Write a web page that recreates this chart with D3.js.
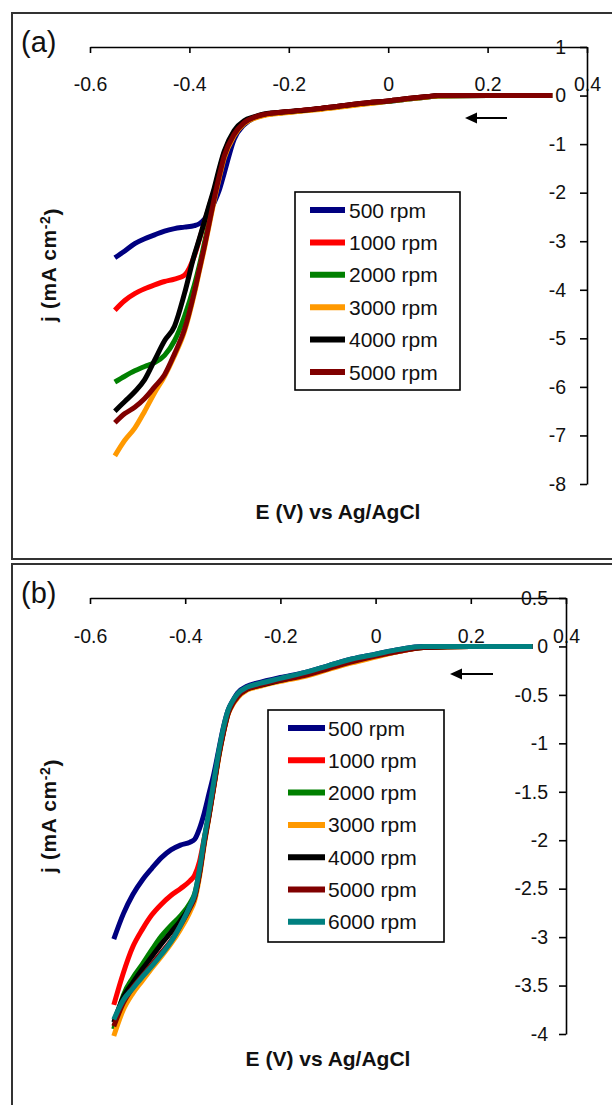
<!DOCTYPE html>
<html><head><meta charset="utf-8">
<script src="https://cdn.jsdelivr.net/npm/d3@7"></script>
<style>
body{margin:0;background:#fff}
svg{display:block;font-family:"Liberation Sans",Arial,sans-serif}
</style>
</head><body>
<svg id="chart" width="612" height="1105"></svg>
<script>
// ---------- DATA ----------
const xTicks = [-0.6, -0.4, -0.2, 0, 0.2, 0.4];
const yTicksA = [1, 0, -1, -2, -3, -4, -5, -6, -7, -8];
const yTicksB = [0.5, 0, -0.5, -1, -1.5, -2, -2.5, -3, -3.5, -4];

const seriesNamesA = ["500 rpm", "1000 rpm", "2000 rpm", "3000 rpm", "4000 rpm", "5000 rpm"];
const seriesNamesB = ["500 rpm", "1000 rpm", "2000 rpm", "3000 rpm", "4000 rpm", "5000 rpm", "6000 rpm"];

// panel (a): potential grid (V) and current densities (mA cm-2)
const potentialA = [-0.55,-0.53,-0.51,-0.49,-0.47,-0.45,-0.43,-0.41,-0.39,-0.38,-0.37,-0.36,-0.35,-0.34,-0.33,-0.31,-0.29,-0.27,-0.25,-0.20,-0.15,-0.10,-0.05,0,0.05,0.08,0.10,0.20,0.33];
const a500  = [-3.34,-3.20,-3.05,-2.95,-2.87,-2.79,-2.74,-2.71,-2.68,-2.64,-2.55,-2.40,-2.20,-1.95,-1.60,-0.90,-0.60,-0.46,-0.40,-0.34,-0.29,-0.23,-0.17,-0.12,-0.06,-0.03,-0.01,0,0];
const a1000 = [-4.42,-4.22,-4.08,-3.98,-3.90,-3.83,-3.78,-3.70,-3.30,-2.97,-2.62,-2.28,-1.95,-1.55,-1.18,-0.76,-0.54,-0.45,-0.39,-0.33,-0.28,-0.22,-0.16,-0.11,-0.05,-0.02,0,0,0];
const a2000 = [-5.90,-5.78,-5.67,-5.58,-5.50,-5.35,-5.05,-4.55,-3.90,-3.50,-3.05,-2.58,-2.10,-1.66,-1.26,-0.81,-0.57,-0.46,-0.40,-0.34,-0.29,-0.23,-0.17,-0.12,-0.06,-0.03,-0.01,0,0];
const a3000 = [-7.42,-7.10,-6.85,-6.50,-6.12,-5.78,-5.36,-4.86,-4.08,-3.62,-3.16,-2.66,-2.16,-1.70,-1.29,-0.83,-0.58,-0.47,-0.41,-0.35,-0.30,-0.24,-0.18,-0.12,-0.06,-0.03,-0.01,0,0];
const a4000 = [-6.50,-6.30,-6.10,-5.85,-5.45,-5.05,-4.75,-4.08,-3.28,-2.95,-2.60,-2.25,-1.90,-1.50,-1.15,-0.72,-0.52,-0.44,-0.38,-0.33,-0.28,-0.22,-0.16,-0.11,-0.05,-0.02,0,0,0];
const a5000 = [-6.74,-6.55,-6.42,-6.24,-6.00,-5.75,-5.32,-4.82,-4.04,-3.58,-3.12,-2.62,-2.12,-1.66,-1.25,-0.80,-0.56,-0.45,-0.39,-0.33,-0.28,-0.22,-0.16,-0.11,-0.05,-0.02,0,0,0];

// panel (b)
const potentialB = [-0.55,-0.53,-0.51,-0.49,-0.47,-0.45,-0.43,-0.41,-0.39,-0.38,-0.37,-0.36,-0.35,-0.34,-0.33,-0.32,-0.31,-0.30,-0.29,-0.27,-0.25,-0.20,-0.15,-0.10,-0.05,0,0.05,0.10,0.20,0.33];
const b500  = [-3.02,-2.76,-2.56,-2.41,-2.29,-2.18,-2.10,-2.05,-2.02,-1.99,-1.88,-1.72,-1.52,-1.32,-1.08,-0.84,-0.66,-0.56,-0.48,-0.41,-0.38,-0.32,-0.27,-0.20,-0.13,-0.08,-0.03,0,0,0];
const b1000 = [-3.70,-3.37,-3.10,-2.92,-2.77,-2.66,-2.57,-2.50,-2.42,-2.36,-2.22,-1.98,-1.74,-1.45,-1.15,-0.90,-0.70,-0.59,-0.52,-0.44,-0.41,-0.35,-0.30,-0.23,-0.16,-0.10,-0.05,-0.01,0,0];
const b2000 = [-3.95,-3.60,-3.42,-3.28,-3.13,-2.99,-2.88,-2.78,-2.65,-2.55,-2.32,-2.00,-1.73,-1.43,-1.13,-0.88,-0.68,-0.58,-0.51,-0.43,-0.40,-0.34,-0.29,-0.22,-0.15,-0.09,-0.04,-0.01,0,0];
const b3000 = [-4.02,-3.75,-3.58,-3.45,-3.32,-3.20,-3.07,-2.92,-2.74,-2.62,-2.38,-2.05,-1.76,-1.46,-1.16,-0.90,-0.70,-0.60,-0.53,-0.45,-0.42,-0.36,-0.31,-0.24,-0.17,-0.11,-0.05,-0.01,0,0];
const b4000 = [-3.88,-3.62,-3.47,-3.33,-3.20,-3.07,-2.95,-2.83,-2.68,-2.58,-2.34,-2.02,-1.74,-1.44,-1.14,-0.89,-0.69,-0.58,-0.51,-0.44,-0.41,-0.35,-0.29,-0.22,-0.15,-0.09,-0.04,-0.01,0,0];
const b5000 = [-3.92,-3.68,-3.52,-3.40,-3.28,-3.16,-3.04,-2.88,-2.70,-2.59,-2.35,-2.03,-1.75,-1.45,-1.14,-0.89,-0.69,-0.59,-0.52,-0.44,-0.41,-0.35,-0.30,-0.23,-0.16,-0.10,-0.05,-0.01,0,0];
const b6000 = [-3.85,-3.65,-3.53,-3.41,-3.30,-3.18,-3.05,-2.88,-2.68,-2.56,-2.30,-1.98,-1.70,-1.40,-1.10,-0.85,-0.66,-0.56,-0.49,-0.42,-0.39,-0.33,-0.27,-0.20,-0.13,-0.08,-0.03,0,0,0];

const colors = ["#000080", "#FF0000", "#008000", "#FF9900", "#000000", "#800000", "#008080"];

// ---------- DRAW ----------
const svg = d3.select("#chart");
const textColor = "#111";

function panel(o) {
  const g = svg.append("g");
  // frame
  g.append("rect").attr("x", o.frame[0]).attr("y", o.frame[1])
    .attr("width", o.frame[2]).attr("height", o.frame[3])
    .attr("fill", "none").attr("stroke", "#333").attr("stroke-width", 2);
  g.append("text").attr("x", 21).attr("y", o.frame[1] + 39)
    .attr("font-size", 29).attr("fill", textColor).text(o.tag);

  const x = d3.scaleLinear().domain([-0.6, 0.4]).range(o.xr);
  const y = d3.scaleLinear().domain(o.yd).range(o.yr);

  // top x axis
  const xa = g.append("g").attr("transform", `translate(0,${o.yr[0]})`)
    .call(d3.axisBottom(x).tickValues(xTicks).tickFormat(d => String(d))
      .tickSizeInner(6).tickSizeOuter(0).tickPadding(o.xpad));
  // right y axis with labels on its left
  const ya = g.append("g").attr("transform", `translate(${o.xr[1]},0)`)
    .call(d3.axisLeft(y).tickValues(o.yTicks).tickFormat(d => String(d))
      .tickSizeInner(7).tickSizeOuter(0).tickPadding(o.ypad));
  [xa, ya].forEach(a => {
    a.selectAll("path,line").attr("stroke", "#000").attr("stroke-width", 1.6);
    a.selectAll("text").attr("font-size", 19.5).attr("fill", textColor)
      .attr("font-family", "'Liberation Sans',Arial,sans-serif");
  });

  // curves
  const line = d3.line().x(d => x(d[0])).y(d => y(d[1])).curve(d3.curveMonotoneX);
  o.series.forEach((vals, i) => {
    const pts = o.potential.map((e, k) => [e, vals[k]]);
    g.append("path").attr("d", line(pts)).attr("fill", "none")
      .attr("stroke", colors[i]).attr("stroke-width", 5)
      .attr("stroke-linejoin", "round");
  });

  // scan direction arrow
  const ar = o.arrow;
  g.append("line").attr("x1", ar[0] + 9).attr("y1", ar[2]).attr("x2", ar[1]).attr("y2", ar[2])
    .attr("stroke", "#000").attr("stroke-width", 2);
  g.append("path").attr("d", `M${ar[0]},${ar[2]} l12,-5.5 l0,11 z`).attr("fill", "#000");

  // legend
  const L = o.legend;
  g.append("rect").attr("x", L.x).attr("y", L.y).attr("width", L.w).attr("height", L.h)
    .attr("fill", "#fff").attr("stroke", "#000").attr("stroke-width", 1.6);
  o.names.forEach((nm, i) => {
    const yy = L.y0 + i * L.dy;
    g.append("line").attr("x1", L.lx0).attr("x2", L.lx1).attr("y1", yy).attr("y2", yy)
      .attr("stroke", colors[i]).attr("stroke-width", 6);
    g.append("text").attr("x", L.tx).attr("y", yy).attr("dy", "0.36em")
      .attr("font-size", 21).attr("fill", textColor).text(nm);
  });

  // axis titles
  g.append("text").attr("x", o.xt[0]).attr("y", o.xt[1]).attr("text-anchor", "middle")
    .attr("font-size", 21).attr("font-weight", "bold").attr("fill", textColor)
    .text("E (V) vs Ag/AgCl");
  const yt = g.append("text").attr("transform", `translate(${o.yt[0]},${o.yt[1]}) rotate(-90)`)
    .attr("text-anchor", "middle").attr("font-size", 21).attr("font-weight", "bold")
    .attr("letter-spacing", 0.6).attr("fill", textColor);
  yt.append("tspan").text("j (mA cm");
  yt.append("tspan").attr("dy", "-0.45em").attr("font-size", 14).text("-2");
  yt.append("tspan").attr("dy", "0.45em").text(")");
}

panel({
  tag: "(a)", frame: [12, 13, 620, 546],
  xr: [90, 587], yd: [1, -8], yr: [47, 484], yTicks: yTicksA, xpad: 24, ypad: 14,
  potential: potentialA, series: [a500, a1000, a2000, a3000, a4000, a5000], names: seriesNamesA,
  arrow: [465, 507, 118],
  legend: {x: 295, y: 192, w: 165, h: 198, y0: 210, dy: 32.4, lx0: 310, lx1: 345, tx: 349},
  xt: [338, 519], yt: [56, 265]
});
panel({
  tag: "(b)", frame: [12, 564, 620, 560],
  xr: [90, 566], yd: [0.5, -4], yr: [598, 1034], yTicks: yTicksB, xpad: 25, ypad: 11,
  potential: potentialB, series: [b500, b1000, b2000, b3000, b4000, b5000, b6000], names: seriesNamesB,
  arrow: [450, 493, 674],
  legend: {x: 268, y: 710, w: 176, h: 232, y0: 728, dy: 32.3, lx0: 288, lx1: 325, tx: 328},
  xt: [328, 1066], yt: [56, 816]
});
</script>
</body></html>
